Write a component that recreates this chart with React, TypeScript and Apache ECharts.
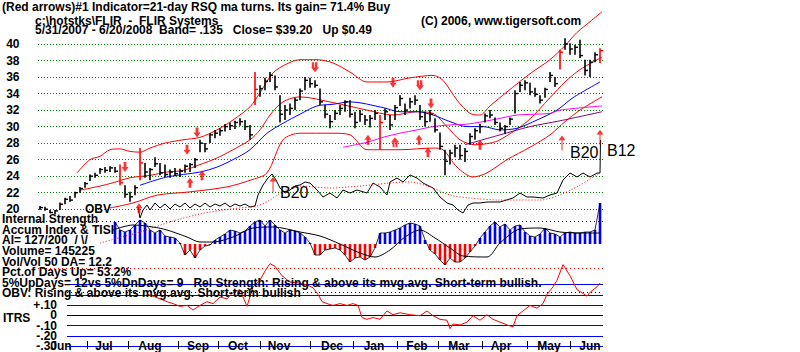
import React, { useEffect, useRef } from 'react';
import * as echarts from 'echarts';

const FAMILY = 'Liberation Sans';

// ---- price bars (one bar per ~2.4 trading days, index 0..112) ----
const barHigh = [20.4,20.3,19.9,19.9,20.8,21.4,21.6,22.1,22.7,23.3, 24.2,24.4,25.0,25.1,25.2,25.1,25.4,22.9,22.1,22.9, 27.4,25.6,25.0,26.3,25.6,25.4,24.8,25.0,24.9,25.4, 25.6,26.2,28.4,28.0,29.2,29.6,29.8,30.3,30.5,30.7, 31.0,30.8,30.2,36.6,35.0,35.9,36.6,36.2,33.8,32.6, 32.8,33.5,34.6,36.0,35.9,35.6,34.6,32.6,31.4,32.0, 32.6,33.2,33.2,31.8,32.0,31.4,31.4,32.0,31.4,32.2, 31.4,32.6,33.8,32.8,33.5,33.8,32.6,31.8,32.0,31.0, 29.3,27.2,27.2,27.8,27.8,27.4,29.2,29.8,30.3,31.6, 32.0,31.1,30.5,30.2,31.1,34.4,35.4,35.6,35.3,34.7, 33.8,34.7,36.6,36.0,39.3,40.7,40.1,39.9,40.5,38.1, 38.1,39.0,39.5];
const barLow = [19.9,19.8,19.5,19.4,19.9,20.6,20.9,21.4,22.0,22.6, 23.4,23.8,24.3,24.4,24.5,24.4,22.9,21.4,20.9,21.7, 23.5,23.8,23.5,25.1,24.1,23.9,23.8,24.0,23.9,24.4, 24.5,25.0,26.9,26.9,28.0,28.6,28.9,29.4,29.6,29.7, 30.1,29.6,28.4,32.6,33.6,34.4,35.4,34.4,30.5,30.8, 31.4,32.0,33.2,34.4,34.7,34.7,32.6,31.0,29.8,30.8, 31.4,31.8,31.1,29.8,30.6,30.2,29.9,30.8,27.2,30.8, 29.6,30.8,32.5,31.4,32.2,32.6,30.8,30.0,30.6,29.3, 27.2,24.1,25.4,26.3,26.0,25.7,27.8,28.4,29.2,30.5, 31.0,30.2,29.4,29.1,30.2,31.6,34.2,34.4,33.8,33.6, 32.8,33.5,35.4,34.8,36.9,39.3,38.7,38.7,38.3,36.2, 36.0,37.8,37.7];
const barClose = [20.2,20.0,19.6,19.8,20.6,21.2,21.1,22.0,22.5,23.1, 24.0,24.1,24.8,24.7,25.0,24.6,23.2,21.8,21.5,22.6, 25.6,24.5,24.8,25.5,24.4,24.2,24.5,24.3,24.6,25.2, 25.4,26.0,28.0,27.3,29.0,29.2,29.5,30.0,30.1,30.5, 30.6,30.0,29.0,34.5,34.6,35.5,36.2,34.8,31.5,32.0, 32.2,33.2,34.3,35.6,35.2,35.0,33.0,31.5,30.6,31.6, 32.2,33.0,31.5,30.5,31.5,30.8,31.0,31.6,30.5,31.8, 30.2,32.3,33.4,32.0,33.0,33.2,31.2,30.6,31.5,29.6, 27.6,25.8,26.8,27.4,26.5,27.0,28.8,29.5,30.0,31.3, 31.4,30.5,29.8,30.0,30.9,34.0,35.0,35.3,34.2,33.9, 33.2,34.5,36.2,35.2,39.0,40.0,39.4,39.6,38.6,36.8, 37.8,38.7,39.2];
const redBars = [16, 20, 43, 68, 104, 112];

// ---- bands & moving averages ----
const upperX = [7.4,10,12,14,16,18,20,22,25,28.6,32,35.4,38.6,42,44,46.6,49.4,52,55.4,58.6,62,65.4,69.4,74,78.6,80.6,83.4,86,88,90,93.4,98,102,105,107.4,110,112.4];
const upperY = [24.4,26.0,26.4,27.2,27.3,27.0,26.9,27.4,28.0,28.4,28.7,29.6,30.8,32.4,34.1,36.5,37.6,38.1,38.1,37.7,36.6,35.4,35.4,35.9,36.2,35.6,33.2,31.6,31.4,32.5,34.2,36.4,38.1,39.8,41.4,42.7,43.9];
const midX = [8,12,14.6,18,22,25.4,28.6,32,35.4,38.6,42,44,46,48.6,52,58.6,65.4,70.6,75.4,78.6,81.4,84,87,90,92,97.4,102,105,108,112.4];
const midY = [22.3,22.8,23.2,23.8,24.1,24.5,24.7,25.4,26.2,27.2,28.4,29.6,31.4,33.0,33.6,32.9,32.0,31.4,31.8,31.6,30.0,28.4,27.8,28.0,28.4,30.6,33.5,35.4,36.9,38.4];
const lowerX = [14,18.6,23.4,30,37.4,42,45.4,48.6,52,58.6,62,65.4,68,72,78.6,80.6,83.4,86.6,89.4,93.4,98,102,105,108,112.4];
const lowerY = [20.15,20.75,21.7,22.1,22.7,23.5,24.4,28.4,29.2,29.2,29.0,27.2,27.2,27.2,27.4,27.2,25.1,23.9,24.4,26.0,27.5,29.0,30.6,32.0,33.6];
const blueX = [20,25.4,32,35.4,38.6,42,45.4,48.6,52,55.4,58.6,62,68.6,72,75.4,78.6,82,85.4,88.6,92,95.4,99.4,103.4,106.6,112];
const blueY = [22.9,23.9,24.5,25.1,26.0,27.2,29.2,30.4,31.5,32.5,32.7,33.0,32.3,31.8,31.8,31.4,30.6,30.0,30.0,29.6,29.8,30.8,32.0,33.5,35.4];
const magentaX = [60.6,65.4,68.6,72,75.4,78.6,82,85.4,88.6,92,95.4,102,104,112.4];
const magentaY = [27.5,28.1,28.7,29.2,29.6,30.0,30.2,30.3,30.6,31.0,31.4,31.6,32.0,32.5];
const purpleX = [85,92,98,104,112.4];
const purpleY = [27.8,29.0,30.0,30.7,31.8];

// ---- signal arrows ----
const downArrowX = [17, 29.4, 31.4, 70.6, 78.2];
const downArrowY = [25.1, 27.2, 29.3, 35.3, 32.8];
const dblDownX = [55, 76];
const dblDownY = [37.2, 35.0];
const upArrowX = [19.8, 30, 32.4, 65.6, 75.8, 77.6, 88];
const upArrowY = [20.1, 23.2, 24.1, 28.4, 28.4, 26.9, 27.8];
const dblUpX = [71];
const dblUpY = [28.1];
const thinUpX = [46.6, 104.4, 112];
const thinUpY = [23.0, 28.0, 28.7];

// ---- OBV ----
const obvX = [19.6,20,20.6,21.4,22,23,24,25,26,27,28,29,30,31,32,33,34,35,36,37,38,39,40,41,42,43,43.6,44.6,45.6,46.4,47.2,48,49,50,51,52,53,54,55.4,56.6,58,59.4,60.6,62,63.4,65.4,66.6,68,69.4,70,71.4,72.6,74,75.4,76.6,78.6,80,81.4,82.6,83.6,84.6,85.6,86.6,88,89.4,92,94.6,96,97.4,98.6,100.6,102,103.4,104.6,106,107.4,108.6,110,111.4,112,112.1];
const obvY = [23,12,20,25,20,27,22,26,21,26,23,27,22,26,23,27,23,26,24,27,23,26,24,26,23,24,35,45,52,56,50,42,37,40,44,45,48,47,40,33,37,32,40,37,40,37,47,43,35,48,52,48,55,52,47,42,33,27,25,20,17,25,27,27,28,28,32,37,33,33,32,35,37,50,57,53,57,53,57,57,90];
const obvMaX = [12,20,26,32,38,43.4,46,49,52,58,64,70,74,78,82,86,92,100,104,108,112];
const obvMaY = [-13,-2,8,16,21,24,30,40,44,42,44,47,48,43,35,32,30,30,35,45,57];

// ---- Accumulation index ----
const accumStart = 15;
const accumVals = [22,14,12,14,19,24,21,14,11,14, 8,7,6,1,-11,-6,-14,-6,-2,-1, 4,7,10,14,13,11,13,18,22,24, 18,24,19,14,11,14,13,11,7,1, -11,-11,-6,-5,-4,-6,-11,-18,-14,-13, -16,-13,-4,11,11,12,14,16,19,21, 20,18,4,-6,-10,-16,-21,-14,-18,-18, -14,-8,-2,6,12,18,22,17,20,14, 18,19,12,8,7,10,16,11,10,7, 11,12,11,11,12,12,14,41];
const accMaX = [14.6,18.6,22.6,25.4,29.4,32,34.6,38.6,42.6,46.6,52,56,60,64,67,70,73,76,79,82,84.6,89.4,92,96,100,104,108,112];
const accMaY = [14,19,17,14,7,2,2,7,16,17,12,8,0,-9,-13,-6,7,14,6,-4,-12,-13,1,15,16,12,11,11];

// ---- ITRS ----
const itrsX = [21.4,22.6,24,25.4,26.6,28,29.4,30.6,32,33.4,34.6,36,37.4,38.6,40,41.4,42.6,44,45,46,47,48.4,50,52,53.4,54.6,55.6,56.4,57.4,58.6,60,61.4,62.6,63.6,64.4,65.4,66.6,68,69.4,70.6,72,74,76,77.4,78.6,80,81.4,82,82.6,84,85.4,86.6,88,89.4,90.6,92,93.4,94.6,95.4,96.6,98,99.4,100.6,101.4,102.6,103.4,104.6,106,107.4,109.4,110,111.4,112];
const itrsY = [0.206,0.188,0.161,0.134,0.115,0.088,0.097,0.052,0.097,0.134,0.115,0.179,0.161,0.225,0.252,0.088,0.279,0.343,0.434,0.506,0.479,0.388,0.325,0.315,0.297,0.27,0.206,0.134,0.115,0.097,0.115,0.097,0.115,0.097,-0.021,-0.039,-0.021,-0.039,0.043,0.006,0.025,0.006,-0.003,0.043,-0.003,-0.039,-0.048,-0.13,-0.085,-0.094,-0.066,-0.003,-0.048,0.006,-0.039,-0.066,-0.094,-0.112,-0.003,0.043,0.097,0.07,0.115,0.206,0.279,0.343,0.497,0.388,0.252,0.188,0.225,0.279,0.315];
const itrsLabels: Record<string, string> = { '1': '+.10', '0': '0', '-1': '-.10', '-2': '-.20' };
const itrsBottomLabel = '-.30';

// ---- month axis ----
const monthTicks = [9.4,17.6,27.6,35.6,44,54,62.6,71.4,79.6,88.4,97.4,106];
const monthCenters = [4.2,12.8,22,31.6,39.6,47.8,58.4,66.8,75.4,83.8,92.2,101.8,110];
const monthNames = ['Jun','Jul','Aug','Sep','Oct','Nov','Dec','Jan','Feb','Mar','Apr','May','Jun'];

// ---- texts ----
const titleText = '(Red arrows)#1 Indicator=21-day RSQ ma turns. Its gain= 71.4% Buy';
const subLines = [
  'c:\\hotstks\\FLIR  -  FLIR Systems',
  '5/31/2007 - 6/20/2008  Band= .135   Close= $39.20   Up $0.49',
];
const copyText = '(C) 2006, www.tigersoft.com';
const leftLines = [
  'Internal Strength',
  'Accum Index & TISI',
  'AI= 127/200  / \\/',
  'Volume= 145225',
  'Vol/Vol 50 DA= 12.2',
  'Pct.of Days Up= 53.2%',
  '5%UpDays= 12vs 5%DnDays= 9   Rel Strength: Rising & above its mvg.avg. Short-term bullish.',
  'OBV: Rising & above its mvg.avg. Short-term bullish',
];

const pairs = (xs: number[], ys: number[]) => xs.map((x, i) => [x, ys[i]]);

const RED = '#ff0000';
const BLUE = '#0000ff';
const X_MIN = -0.4;
const X_MAX = 112.6;

const downPath = 'path://M3,0 L7,0 L7,6 L10,6 L5,12 L0,6 L3,6 Z';
const upPath = 'path://M5,0 L10,6 L7,6 L7,12 L3,12 L3,6 L0,6 Z';
const dblDownPath = 'path://M1,0 L4,0 L4,6 L5,6 L5,0 L8,0 L8,6 L10,6 L5,12 L0,6 L1,6 Z';
const dblUpPath = 'path://M5,0 L10,6 L8,6 L8,12 L5.6,12 L5.6,6 L4.4,6 L4.4,12 L2,12 L2,6 L0,6 Z';
const thinUpPath = 'path://M4,0 L8,5 L4.6,5 L4.6,16 L3.4,16 L3.4,5 L0,5 Z';

function buildOption() {
  const hiddenX = (gridIndex: number) => ({
    type: 'value', gridIndex, min: X_MIN, max: X_MAX, show: false,
  });
  const priceGridColors = ['transparent', ...Array(11).fill('#008000'), 'transparent', 'transparent'];
  const lineSeries = (name: string, xs: number[], ys: number[], color: string) => ({
    type: 'line', name, xAxisIndex: 0, yAxisIndex: 0, data: pairs(xs, ys), symbol: 'none',
    smooth: 0.3, lineStyle: { color, width: 1 }, silent: true, clip: false, z: 2,
  });
  const arrowSeries = (xs: number[], ys: number[], symbol: string, size: number[]) => ({
    type: 'scatter', xAxisIndex: 0, yAxisIndex: 0, data: pairs(xs, ys), symbol, symbolSize: size,
    itemStyle: { color: RED }, silent: true, clip: false, z: 5,
  });
  const labelStyle = { fontFamily: FAMILY, fontWeight: 'bold', fontSize: 12, color: '#000' };

  const textEl = (
    text: string, x: number, y: number, size = 12, weight = 'bold',
    verticalAlign = 'middle', lineHeight?: number,
  ) => ({
    type: 'text', x, y, silent: true, z: 10,
    style: {
      text, fontSize: size, fontWeight: weight, fontFamily: FAMILY, fill: '#000',
      align: 'left', verticalAlign, ...(lineHeight ? { lineHeight } : {}),
    },
  });

  return {
    animation: false,
    backgroundColor: '#ffffff',
    grid: [
      { left: 38, top: 10.96, width: 565, height: 214.76 },
      { left: 38, top: 130, width: 565, height: 120 },
      { left: 38, top: 200, width: 565, height: 70 },
      { left: 67, top: 284.7, width: 536, height: 66 },
      { left: 38, top: 300, width: 565, height: 41 },
    ],
    xAxis: [
      hiddenX(0),
      hiddenX(1),
      hiddenX(2),
      { type: 'value', gridIndex: 3, min: 5.4, max: 112.6, show: false },
      {
        type: 'value', gridIndex: 4, min: X_MIN, max: X_MAX, position: 'bottom',
        axisLine: { show: false },
        splitLine: { show: false },
        axisTick: { show: true, customValues: monthTicks, length: 8, lineStyle: { color: '#000', width: 1 } },
        axisLabel: {
          show: true, customValues: monthCenters, margin: 5, verticalAlign: 'middle', ...labelStyle,
          formatter: (v: number) => {
            const k = monthCenters.findIndex((c) => Math.abs(c - v) < 1e-6);
            return k >= 0 ? monthNames[k] : '';
          },
        },
      },
    ],
    yAxis: [
      {
        type: 'value', gridIndex: 0, min: 18, max: 44, interval: 2,
        axisLine: { show: false }, axisTick: { show: false },
        axisLabel: {
          margin: 18.5, ...labelStyle,
          formatter: (v: number) => (v >= 20 && v <= 40 ? String(v) : ''),
        },
        splitLine: { show: true, lineStyle: { color: priceGridColors, type: [1, 2], width: 1 } },
      },
      { type: 'value', gridIndex: 1, min: -20, max: 100, show: false },
      { type: 'value', gridIndex: 2, min: -26, max: 44, show: false },
      {
        type: 'value', gridIndex: 3, min: -0.3, max: 0.3, interval: 0.1,
        axisLine: { show: false }, axisTick: { show: false },
        axisLabel: {
          margin: 10, ...labelStyle,
          formatter: (v: number) => itrsLabels[String(Math.round(v * 10))] || '',
        },
        splitLine: {
          show: true,
          lineStyle: { color: [BLUE, BLUE, BLUE, '#000000', BLUE, BLUE, BLUE], width: 1 },
        },
      },
      { type: 'value', gridIndex: 4, min: 0, max: 1, show: false },
      {
        type: 'value', gridIndex: 3, min: -0.3, max: 0.3, position: 'left',
        axisLine: { show: false }, axisTick: { show: false }, splitLine: { show: false },
        axisLabel: {
          margin: 10, ...labelStyle, customValues: [-0.3],
          formatter: () => itrsBottomLabel,
        },
      },
    ],
    series: [
      lineSeries('upper', upperX, upperY, RED),
      lineSeries('mid', midX, midY, RED),
      lineSeries('lower', lowerX, lowerY, RED),
      lineSeries('ma50', blueX, blueY, BLUE),
      lineSeries('magenta', magentaX, magentaY, '#ff00ff'),
      lineSeries('purple', purpleX, purpleY, '#800080'),
      {
        type: 'line', xAxisIndex: 1, yAxisIndex: 1, data: pairs(obvX, obvY), symbol: 'none',
        lineStyle: { color: '#000', width: 1 }, silent: true, clip: false, z: 2,
      },
      {
        type: 'line', xAxisIndex: 1, yAxisIndex: 1, data: pairs(obvMaX, obvMaY), symbol: 'none',
        smooth: 0.3, lineStyle: { color: RED, width: 1, type: [1, 2] }, silent: true, clip: false, z: 2,
      },
      {
        type: 'bar', xAxisIndex: 2, yAxisIndex: 2, barWidth: 2.6, silent: true, clip: false, z: 1,
        data: accumVals.map((v, k) => ({
          value: [accumStart + k, v],
          itemStyle: { color: v >= 0 ? BLUE : RED },
        })),
        markLine: {
          silent: true, symbol: 'none', label: { show: false },
          data: [
            { yAxis: 23, lineStyle: { color: '#000', type: [1, 3], width: 1 } },
            { yAxis: -24, lineStyle: { color: RED, type: [1, 3], width: 1 } },
          ],
        },
      },
      {
        type: 'line', xAxisIndex: 2, yAxisIndex: 2, symbol: 'none', silent: true, z: 2,
        data: accumVals.map((v, k) => [accumStart + k, v]),
        lineStyle: { color: '#000', width: 0.8 },
      },
      {
        type: 'line', xAxisIndex: 2, yAxisIndex: 2, symbol: 'none', silent: true, z: 3, smooth: 0.3,
        data: pairs(accMaX, accMaY), lineStyle: { color: '#000', width: 1 },
      },
      {
        type: 'line', xAxisIndex: 3, yAxisIndex: 3, symbol: 'none', silent: true, clip: false, z: 3,
        data: pairs(itrsX, itrsY), lineStyle: { color: RED, width: 1 },
        markLine: {
          silent: true, symbol: 'none', label: { show: false },
          data: [{ yAxis: 0.227, lineStyle: { color: '#000', type: [1, 3], width: 1 } }],
        },
      },
      { type: 'line', xAxisIndex: 4, yAxisIndex: 4, data: [], symbol: 'none', silent: true },
      { type: 'line', xAxisIndex: 3, yAxisIndex: 5, data: [], symbol: 'none', silent: true },
      {
        type: 'custom', xAxisIndex: 0, yAxisIndex: 0, silent: true, clip: false, z: 4,
        data: barHigh.map((h, i) => [i, h, barLow[i], barClose[i], redBars.includes(i) ? 1 : 0]),
        encode: { x: 0, y: [1, 2, 3] },
        renderItem: (_params: any, api: any) => {
          const x = api.value(0);
          const hi = api.coord([x, api.value(1)]);
          const lo = api.coord([x, api.value(2)]);
          const cl = api.coord([x, api.value(3)]);
          const color = api.value(4) === 1 ? RED : '#000000';
          return {
            type: 'group',
            children: [
              { type: 'line', shape: { x1: hi[0], y1: hi[1], x2: lo[0], y2: lo[1] }, style: { stroke: color, lineWidth: 1.6 } },
              { type: 'line', shape: { x1: cl[0], y1: cl[1], x2: cl[0] + 3, y2: cl[1] }, style: { stroke: color, lineWidth: 1.4 } },
            ],
          };
        },
      },
      arrowSeries(downArrowX, downArrowY, downPath, [7, 10]),
      arrowSeries(dblDownX, dblDownY, dblDownPath, [8, 10]),
      arrowSeries(upArrowX, upArrowY, upPath, [7, 10]),
      arrowSeries(dblUpX, dblUpY, dblUpPath, [8, 10]),
      arrowSeries(thinUpX, thinUpY, thinUpPath, [7, 15]),
    ],
    graphic: [
      textEl(titleText, 2, 6.5),
      textEl(subLines.join('\n'), 35, 16, 12, 'bold', 'top', 9),
      textEl(copyText, 421, 21),
      textEl(leftLines.join('\n'), 2, 213.7, 12, 'bold', 'top', 10.64),
      textEl('OBV', 85, 208.5),
      textEl('ITRS', 3, 317.5),
      textEl('B20', 280, 192.5, 16, 'normal'),
      textEl('B20', 570, 152.5, 16, 'normal'),
      textEl('B12', 607, 150, 16, 'normal'),
    ],
  };
}

export default function App() {
  const ref = useRef<HTMLDivElement>(null);
  useEffect(() => {
    document.body.style.margin = '0';
    if (!ref.current) return;
    const chart = echarts.init(ref.current, null, { renderer: 'svg' });
    chart.setOption(buildOption() as any);
    return () => chart.dispose();
  }, []);
  return (
    <div
      ref={ref}
      style={{ position: 'fixed', left: 0, top: 0, width: 800, height: 352, background: '#fff' }}
    />
  );
}
